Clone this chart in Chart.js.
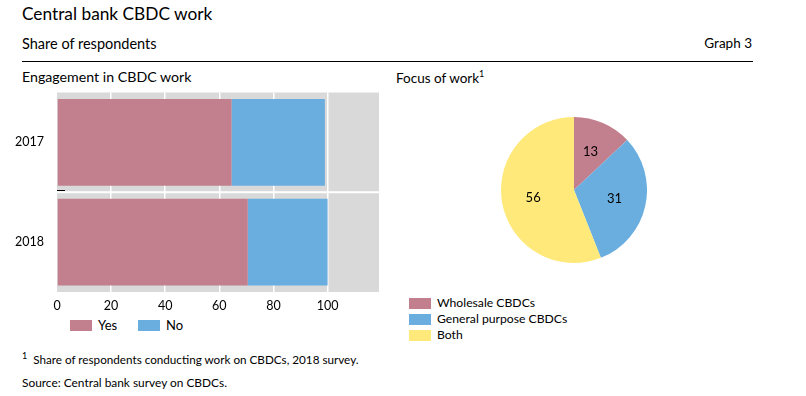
<!DOCTYPE html>
<html>
<head>
<meta charset="utf-8">
<script src="https://cdn.jsdelivr.net/npm/chart.js@4.4.1/dist/chart.umd.min.js"></script>
<style>
  body { margin: 0; background: #fff; font-family: Lato, sans-serif; color: #000; }
  #page { position: relative; width: 806px; height: 396px; overflow: hidden; }
  .txt { position: absolute; white-space: nowrap; }
  .rule { position: absolute; left: 22px; width: 731px; top: 61px; height: 1px; background: #000; }
  .box { position: absolute; width: 22px; height: 11px; }
  sup { font-size: 9px; }
  canvas { position: absolute; }
</style>
</head>
<body>
<div id="page">
  <div class="txt" style="left:22px; top:3px; font-size:17.3px;">Central bank CBDC work</div>
  <div class="txt" style="left:22px; top:35px; font-size:14.5px;">Share of respondents</div>
  <div class="txt" style="right:54px; top:35px; font-size:13.5px;">Graph 3</div>
  <div class="rule"></div>
  <div class="txt" style="left:22px; top:68px; font-size:14.2px;">Engagement in CBDC work</div>
  <div class="txt" style="left:396px; top:68px; font-size:13.5px;">Focus of work<sup>1</sup></div>

  <div style="position:absolute; left:0; top:80px; width:390px; height:235px;">
    <canvas id="barChart"></canvas>
  </div>
  <div style="position:absolute; left:501px; top:117px; width:146px; height:146px;">
    <canvas id="pieChart"></canvas>
  </div>

  <div id="barLegend"></div>
  <div id="pieLegend"></div>

  <div class="txt" style="left:22px; top:350px; font-size:11.7px;"><sup>1</sup>&nbsp; Share of respondents conducting work on CBDCs, 2018 survey.</div>
  <div class="txt" style="left:22px; top:375px; font-size:11.9px;">Source: Central bank survey on CBDCs.</div>
</div>
<script>
const years = ['2017', '2018'];
const yesValues = [64.5, 70.5];
const noValues = [34.5, 29.5];
const xTicks = [0, 20, 40, 60, 80, 100];

const focusLabels = ['Wholesale CBDCs', 'General purpose CBDCs', 'Both'];
const focusValues = [13, 31, 56];

const pink = '#c27f8e';
const blue = '#6aaee0';
const yellow = '#fee97a';
const grey = '#d9d9d9';

Chart.defaults.font.family = 'Lato, sans-serif';
Chart.defaults.color = '#000';
Chart.defaults.animation = false;

// grey panel behind the bars, plus the white divider between the two years
const panelPlugin = {
    id: 'panel',
    beforeDraw(chart) {
        const { ctx, chartArea } = chart;
        ctx.save();
        ctx.fillStyle = grey;
        ctx.fillRect(chartArea.left, chartArea.top, chartArea.right - chartArea.left, chartArea.bottom - chartArea.top);
        ctx.restore();
    },
    afterDatasetsDraw(chart) {
        const { ctx, chartArea } = chart;
        const y = chart.scales.y;
        const mid = (y.getPixelForTick(0) + y.getPixelForTick(1)) / 2;
        ctx.save();
        ctx.strokeStyle = '#fff';
        ctx.lineWidth = 2;
        ctx.beginPath();
        ctx.moveTo(chartArea.left, mid);
        ctx.lineTo(chartArea.right, mid);
        ctx.stroke();
        ctx.strokeStyle = '#000';
        ctx.lineWidth = 1;
        ctx.beginPath();
        ctx.moveTo(chartArea.left, Math.round(mid) - 1.5);
        ctx.lineTo(chartArea.left + 8, Math.round(mid) - 1.5);
        ctx.stroke();
        ctx.restore();
    }
};

new Chart(document.getElementById('barChart'), {
    type: 'bar',
    data: {
        labels: years,
        datasets: [
            { label: 'Yes', data: yesValues, backgroundColor: pink },
            { label: 'No', data: noValues, backgroundColor: blue }
        ]
    },
    options: {
        indexAxis: 'y',
        responsive: true,
        maintainAspectRatio: false,
        layout: { padding: { top: 5, right: 11, left: 0, bottom: 0 } },
        datasets: { bar: { categoryPercentage: 1, barPercentage: 0.87 } },
        plugins: { legend: { display: false }, tooltip: { enabled: false } },
        scales: {
            x: {
                stacked: true,
                min: 0,
                max: 119,
                afterBuildTicks: scale => { scale.ticks = xTicks.map(v => ({ value: v })); },
                ticks: { font: { size: 12.5 }, padding: 6 },
                grid: {
                    color: ctx => (ctx.tick && ctx.tick.value > 0 ? '#fff' : 'rgba(0,0,0,0)'),
                    lineWidth: 1.5,
                    drawTicks: false
                },
                border: { display: false },
                afterFit: scale => { scale.height = 23; }
            },
            y: {
                stacked: true,
                ticks: { font: { size: 12.5 }, padding: 5 },
                grid: { display: false },
                border: { display: false },
                afterFit: scale => { scale.width = 57; }
            }
        }
    },
    plugins: [panelPlugin]
});

// value labels inside the pie slices
const sliceLabels = {
    id: 'sliceLabels',
    afterDatasetsDraw(chart) {
        const { ctx } = chart;
        const meta = chart.getDatasetMeta(0);
        ctx.save();
        ctx.fillStyle = '#000';
        ctx.font = '13px Lato, sans-serif';
        ctx.textAlign = 'center';
        ctx.textBaseline = 'middle';
        meta.data.forEach((arc, i) => {
            const mid = (arc.startAngle + arc.endAngle) / 2;
            const r = arc.outerRadius * 0.57;
            ctx.fillText(String(focusValues[i]), arc.x + Math.cos(mid) * r, arc.y + Math.sin(mid) * r);
        });
        ctx.restore();
    }
};

new Chart(document.getElementById('pieChart'), {
    type: 'pie',
    data: {
        labels: focusLabels,
        datasets: [{ data: focusValues, backgroundColor: [pink, blue, yellow], borderWidth: 0 }]
    },
    options: {
        responsive: true,
        maintainAspectRatio: false,
        layout: { padding: 0 },
        plugins: { legend: { display: false }, tooltip: { enabled: false } }
    },
    plugins: [sliceLabels]
});

// legends as plain html
function addLegend(containerId, items, left, top, stepX, stepY, fontSize) {
    const el = document.getElementById(containerId);
    items.forEach((item, i) => {
        const x = left + i * stepX;
        const y = top + i * stepY;
        const box = document.createElement('div');
        box.className = 'box';
        box.style.left = x + 'px';
        box.style.top = y + 'px';
        box.style.background = item.color;
        el.appendChild(box);
        const t = document.createElement('div');
        t.className = 'txt';
        t.style.left = (x + 28) + 'px';
        t.style.top = (y - 3) + 'px';
        t.style.fontSize = fontSize + 'px';
        t.textContent = item.label;
        el.appendChild(t);
    });
}

addLegend('barLegend', [{ label: 'Yes', color: pink }, { label: 'No', color: blue }], 70, 320, 68, 0, 13);
addLegend('pieLegend', focusLabels.map((l, i) => ({ label: l, color: [pink, blue, yellow][i] })), 409, 298, 0, 16, 12.2);
</script>
</body>
</html>
